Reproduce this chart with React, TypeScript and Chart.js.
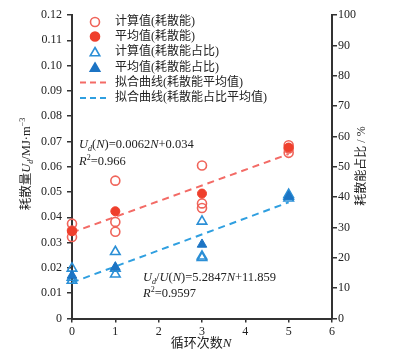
import React, { useEffect, useRef } from 'react';
import { Chart, registerables } from 'chart.js';

Chart.register(...registerables);

const FONT = "'Liberation Serif', 'Noto Sans CJK SC', serif";

// ---- data ----
const calcCycles = [0, 0, 0, 1, 1, 1, 3, 3, 3, 5, 5, 5];
const calcEnergy = [0.0375, 0.0348, 0.0322, 0.0545, 0.0382, 0.0343, 0.0605, 0.0455, 0.0437, 0.0685, 0.0672, 0.0655];
const avgCycles = [0, 1, 3, 5];
const avgEnergy = [0.0345, 0.0424, 0.0494, 0.0676];
const ratioCycles = [0, 0, 0, 1, 1, 1, 3, 3, 3, 5, 5, 5];
const calcRatio = [16.5, 13.5, 12.5, 22.0, 16.5, 14.6, 32.0, 20.5, 20.0, 40.8, 40.2, 39.6];
const avgRatio = [14.2, 16.9, 24.4, 40.2];
const fitCycles = [0, 5];
const energySlope = 0.0062;
const energyIntercept = 0.034;
const ratioSlope = 5.2847;
const ratioIntercept = 11.859;
const legendLabels = [
  '计算值(耗散能)',
  '平均值(耗散能)',
  '计算值(耗散能占比)',
  '平均值(耗散能占比)',
  '拟合曲线(耗散能平均值)',
  '拟合曲线(耗散能占比平均值)',
];

// ---- styles ----
const RED_OPEN = '#f0645a';
const RED_FILL = '#ef3f2c';
const BLUE_OPEN = '#2b8fd6';
const BLUE_FILL = '#1c74c4';
const RED_DASH = '#f36b66';
const BLUE_DASH = '#2f9fe0';
const AXIS = '#333333';
const TEXT = '#222222';

type Seg = { t: string; it?: boolean; sub?: boolean; sup?: boolean };

function segFont(s: Seg, size: number) {
  const fs = s.sub || s.sup ? size * 0.65 : size;
  return `${s.it ? 'italic ' : ''}${fs}px ${FONT}`;
}
function measureRich(ctx: CanvasRenderingContext2D, segs: Seg[], size: number) {
  let w = 0;
  for (const s of segs) {
    ctx.font = segFont(s, size);
    w += ctx.measureText(s.t).width;
  }
  return w;
}
function drawRich(ctx: CanvasRenderingContext2D, x: number, y: number, segs: Seg[], size: number) {
  let cx = x;
  ctx.textAlign = 'left';
  ctx.textBaseline = 'middle';
  for (const s of segs) {
    ctx.font = segFont(s, size);
    const dy = s.sub ? size * 0.28 : s.sup ? -size * 0.33 : 0;
    ctx.fillText(s.t, cx, y + dy);
    cx += ctx.measureText(s.t).width;
  }
}

function drawMarker(ctx: CanvasRenderingContext2D, kind: string, x: number, y: number, color: string, filled: boolean) {
  ctx.save();
  ctx.beginPath();
  if (kind === 'circle') {
    ctx.arc(x, y, 4.5, 0, Math.PI * 2);
  } else {
    const r = 5.5;
    let rad = 0;
    ctx.moveTo(x + Math.sin(rad) * r, y - Math.cos(rad) * r);
    rad += (2 * Math.PI) / 3;
    ctx.lineTo(x + Math.sin(rad) * r, y - Math.cos(rad) * r);
    rad += (2 * Math.PI) / 3;
    ctx.lineTo(x + Math.sin(rad) * r, y - Math.cos(rad) * r);
    ctx.closePath();
  }
  if (filled) {
    ctx.fillStyle = color;
    ctx.fill();
  }
  ctx.strokeStyle = color;
  ctx.lineWidth = 1.6;
  ctx.stroke();
  ctx.restore();
}

const overlayPlugin = {
  id: 'overlay',
  afterDraw(chart: any) {
    const ctx: CanvasRenderingContext2D = chart.ctx;
    ctx.save();
    ctx.fillStyle = TEXT;

    // legend
    const rows = [22, 36.5, 52, 67.5, 82.5, 98];
    const mx = 95;
    drawMarker(ctx, 'circle', mx, rows[0], RED_OPEN, false);
    drawMarker(ctx, 'circle', mx, rows[1], RED_FILL, true);
    drawMarker(ctx, 'triangle', mx, rows[2] + 1, BLUE_OPEN, false);
    drawMarker(ctx, 'triangle', mx, rows[3] + 1, BLUE_FILL, true);
    [[rows[4], RED_DASH], [rows[5], BLUE_DASH]].forEach(([yy, col]) => {
      ctx.save();
      ctx.strokeStyle = col as string;
      ctx.lineWidth = 2;
      ctx.setLineDash([6, 4]);
      ctx.beginPath();
      ctx.moveTo(80, yy as number);
      ctx.lineTo(109, yy as number);
      ctx.stroke();
      ctx.restore();
    });
    ctx.fillStyle = TEXT;
    ctx.font = `12px ${FONT}`;
    ctx.textAlign = 'left';
    ctx.textBaseline = 'middle';
    legendLabels.forEach((l, i) => ctx.fillText(l, 115, rows[i]));

    // equations
    const eq = 12.5;
    drawRich(ctx, 79, 145, [
      { t: 'U', it: true }, { t: 'd', it: true, sub: true }, { t: '(' }, { t: 'N', it: true },
      { t: ')=0.0062' }, { t: 'N', it: true }, { t: '+0.034' },
    ], eq);
    drawRich(ctx, 79, 162, [{ t: 'R', it: true }, { t: '2', sup: true }, { t: '=0.966' }], eq);
    drawRich(ctx, 143, 278, [
      { t: 'U', it: true }, { t: 'd', it: true, sub: true }, { t: '/' }, { t: 'U', it: true }, { t: '(' },
      { t: 'N', it: true }, { t: ')=5.2847' }, { t: 'N', it: true }, { t: '+11.859' },
    ], eq);
    drawRich(ctx, 143, 294, [{ t: 'R', it: true }, { t: '2', sup: true }, { t: '=0.9597' }], eq);

    // left axis title
    const leftTitle: Seg[] = [
      { t: '耗散量' }, { t: 'U', it: true }, { t: 'd', it: true, sub: true }, { t: '/MJ·m' }, { t: '−3', sup: true },
    ];
    const lw = measureRich(ctx, leftTitle, 12.5);
    ctx.save();
    ctx.translate(27, 164);
    ctx.rotate(-Math.PI / 2);
    drawRich(ctx, -lw / 2, 0, leftTitle, 12.5);
    ctx.restore();

    // right axis title
    const rightTitle: Seg[] = [{ t: '耗散能占比 / %' }];
    const rw = measureRich(ctx, rightTitle, 12);
    ctx.save();
    ctx.translate(362, 166);
    ctx.rotate(-Math.PI / 2);
    drawRich(ctx, -rw / 2, 0, rightTitle, 12);
    ctx.restore();

    // x axis title
    const xTitle: Seg[] = [{ t: '循环次数' }, { t: 'N', it: true }];
    const xw = measureRich(ctx, xTitle, 13);
    drawRich(ctx, 201 - xw / 2, 344, xTitle, 13);

    ctx.restore();
  },
};

export default function App() {
  const ref = useRef<HTMLCanvasElement>(null);
  useEffect(() => {
    if (!ref.current) return;
    const tickFont = { family: FONT, size: 12 };
    const chart = new Chart(ref.current, {
      type: 'scatter',
      data: {
        datasets: [
          {
            label: legendLabels[0],
            data: calcCycles.map((x, i) => ({ x, y: calcEnergy[i] })),
            yAxisID: 'y',
            pointStyle: 'circle',
            pointRadius: 4.5,
            pointBorderWidth: 1.6,
            borderColor: RED_OPEN,
            backgroundColor: 'rgba(0,0,0,0)',
            clip: false,
            order: 2,
          },
          {
            label: legendLabels[1],
            data: avgCycles.map((x, i) => ({ x, y: avgEnergy[i] })),
            yAxisID: 'y',
            pointStyle: 'circle',
            pointRadius: 4.5,
            pointBorderWidth: 1,
            borderColor: RED_FILL,
            backgroundColor: RED_FILL,
            clip: false,
            order: 1,
          },
          {
            label: legendLabels[2],
            data: ratioCycles.map((x, i) => ({ x, y: calcRatio[i] })),
            yAxisID: 'y1',
            pointStyle: 'triangle',
            pointRadius: 5.5,
            pointBorderWidth: 1.6,
            borderColor: BLUE_OPEN,
            backgroundColor: 'rgba(0,0,0,0)',
            clip: false,
            order: 2,
          },
          {
            label: legendLabels[3],
            data: avgCycles.map((x, i) => ({ x, y: avgRatio[i] })),
            yAxisID: 'y1',
            pointStyle: 'triangle',
            pointRadius: 5.5,
            pointBorderWidth: 1,
            borderColor: BLUE_FILL,
            backgroundColor: BLUE_FILL,
            clip: false,
            order: 1,
          },
          {
            label: legendLabels[4],
            data: fitCycles.map((x) => ({ x, y: energySlope * x + energyIntercept })),
            yAxisID: 'y',
            showLine: true,
            pointRadius: 0,
            borderColor: RED_DASH,
            borderWidth: 2,
            borderDash: [7, 5],
            order: 5,
          },
          {
            label: legendLabels[5],
            data: fitCycles.map((x) => ({ x, y: ratioSlope * x + ratioIntercept })),
            yAxisID: 'y1',
            showLine: true,
            pointRadius: 0,
            borderColor: BLUE_DASH,
            borderWidth: 2,
            borderDash: [7, 5],
            order: 5,
          },
        ],
      },
      options: {
        animation: false,
        responsive: false,
        layout: { padding: { top: 15, left: 0, right: 0, bottom: 0 } },
        plugins: { legend: { display: false }, tooltip: { enabled: false } },
        scales: {
          x: {
            type: 'linear',
            position: 'bottom',
            min: 0,
            max: 6,
            ticks: { stepSize: 1, font: tickFont, color: TEXT, padding: 2 },
            grid: { drawOnChartArea: false, drawTicks: true, tickLength: 4, color: AXIS, lineWidth: 1.5 },
            border: { display: true, color: AXIS, width: 2 },
            afterFit: (s: any) => { s.height = 37.5; },
          },
          y: {
            type: 'linear',
            position: 'left',
            min: 0,
            max: 0.12,
            ticks: {
              stepSize: 0.01,
              font: tickFont,
              color: TEXT,
              padding: 5,
              callback: (v: any) => (Number(v) === 0 ? '0' : Number(v).toFixed(2)),
            },
            grid: { drawOnChartArea: false, drawTicks: true, tickLength: 5, color: AXIS, lineWidth: 1.5 },
            border: { display: true, color: AXIS, width: 2 },
            afterFit: (s: any) => { s.width = 72; },
          },
          y1: {
            type: 'linear',
            position: 'right',
            min: 0,
            max: 100,
            ticks: { stepSize: 10, font: tickFont, color: TEXT, padding: 1 },
            grid: { drawOnChartArea: false, drawTicks: true, tickLength: 5, color: AXIS, lineWidth: 1.5 },
            border: { display: true, color: AXIS, width: 2 },
            afterFit: (s: any) => { s.width = 65; },
          },
        },
      },
      plugins: [overlayPlugin],
    } as any);
    return () => chart.destroy();
  }, []);
  return (
    <div style={{ position: 'absolute', left: 0, top: 0, width: 397, height: 356, background: '#fff' }}>
      <canvas ref={ref} width={397} height={356} style={{ display: 'block' }} />
    </div>
  );
}
